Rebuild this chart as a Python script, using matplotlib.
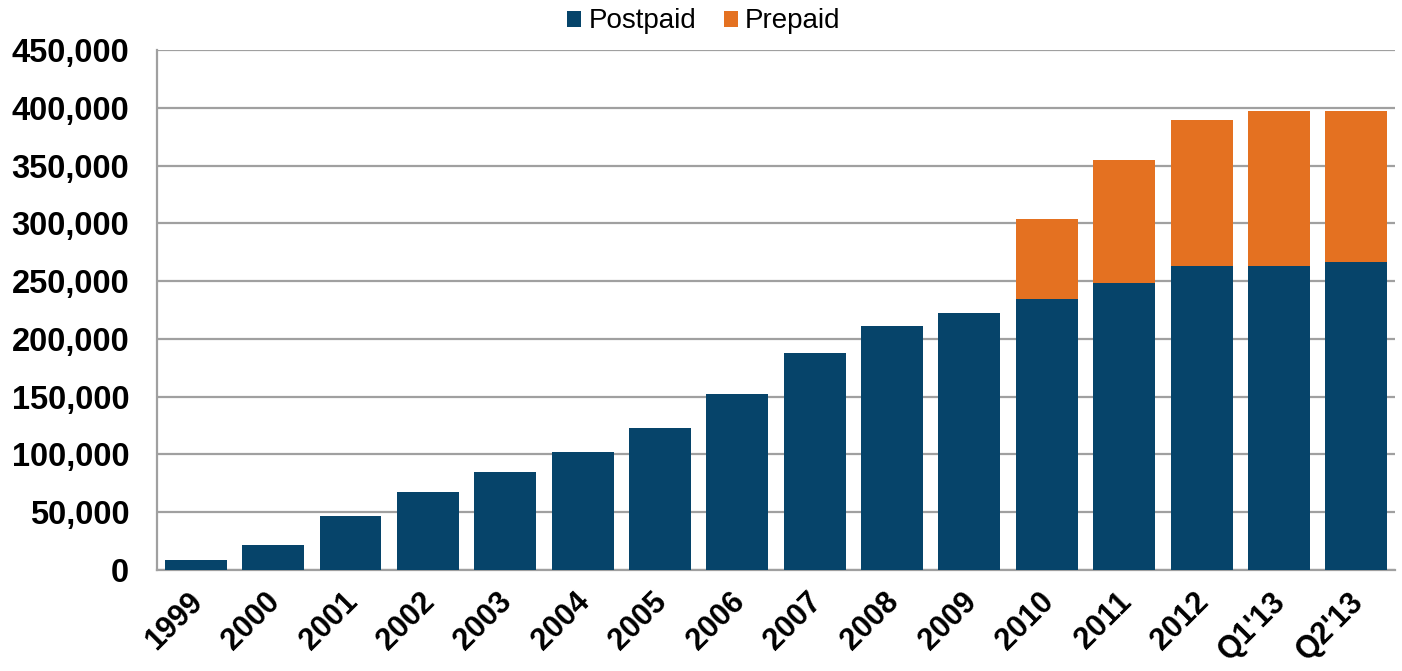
import numpy as np
import matplotlib
matplotlib.use('Agg')
import matplotlib.pyplot as plt
import matplotlib.transforms as mtransforms

# categories and values
categories = ['1999', '2000', '2001', '2002', '2003', '2004', '2005', '2006',
              '2007', '2008', '2009', '2010', '2011', '2012', "Q1'13", "Q2'13"]
postpaid = [8600, 21500, 47000, 67500, 84500, 102000, 122500, 152300,
            187600, 211300, 222300, 234300, 248600, 263300, 263300, 266200]
prepaid = [0, 0, 0, 0, 0, 0, 0, 0,
           0, 0, 0, 69500, 106300, 126300, 133800, 130900]
yticks = [0, 50000, 100000, 150000, 200000, 250000, 300000, 350000, 400000, 450000]

navy = '#06446A'
orange = '#E47121'

plt.rcParams['font.family'] = ['Liberation Sans', 'DejaVu Sans']

fig = plt.figure(figsize=(14.02, 6.71), dpi=100)
ax = fig.add_axes([0.112, 0.1505, 0.883, 0.775])

x = np.arange(len(categories))
ax.bar(x, postpaid, width=0.8, color=navy, label='Postpaid', zorder=3)
ax.bar(x, prepaid, width=0.8, bottom=postpaid, color=orange, label='Prepaid', zorder=3)

ax.set_xlim(-0.5, len(categories) - 0.5)
ax.set_ylim(0, 450000)
ax.set_yticks(yticks)
ax.set_yticklabels(['{:,}'.format(v) for v in yticks], fontsize=23.5, fontweight='bold')
ax.set_xticks(x)
ax.set_xticklabels(categories, rotation=45, ha='right', rotation_mode='anchor',
                   fontsize=22, fontweight='bold')
ax.tick_params(axis='both', length=0)
ax.tick_params(axis='y', pad=20)
ax.tick_params(axis='x', pad=12)
# nudge x labels a little to the left
shift = mtransforms.ScaledTranslation(-8 / 100, 0, fig.dpi_scale_trans)
for lab in ax.get_xticklabels():
    lab.set_transform(lab.get_transform() + shift)

ax.grid(axis='y', color='#A0A0A0', linewidth=1.6, zorder=0)
for s in ['top', 'right']:
    ax.spines[s].set_visible(False)
ax.spines['left'].set_color('#A0A0A0')
ax.spines['bottom'].set_color('#A0A0A0')
ax.spines['left'].set_linewidth(1.6)
ax.spines['bottom'].set_linewidth(1.6)

handles, labels = ax.get_legend_handles_labels()
fig.legend(handles, labels, loc='center', bbox_to_anchor=(0.502, 0.968), ncol=2,
           frameon=False, fontsize=20, handlelength=0.5, handleheight=0.5,
           handletextpad=0.25, columnspacing=1.0, borderaxespad=0)

fig.savefig('out.png', dpi=100)
